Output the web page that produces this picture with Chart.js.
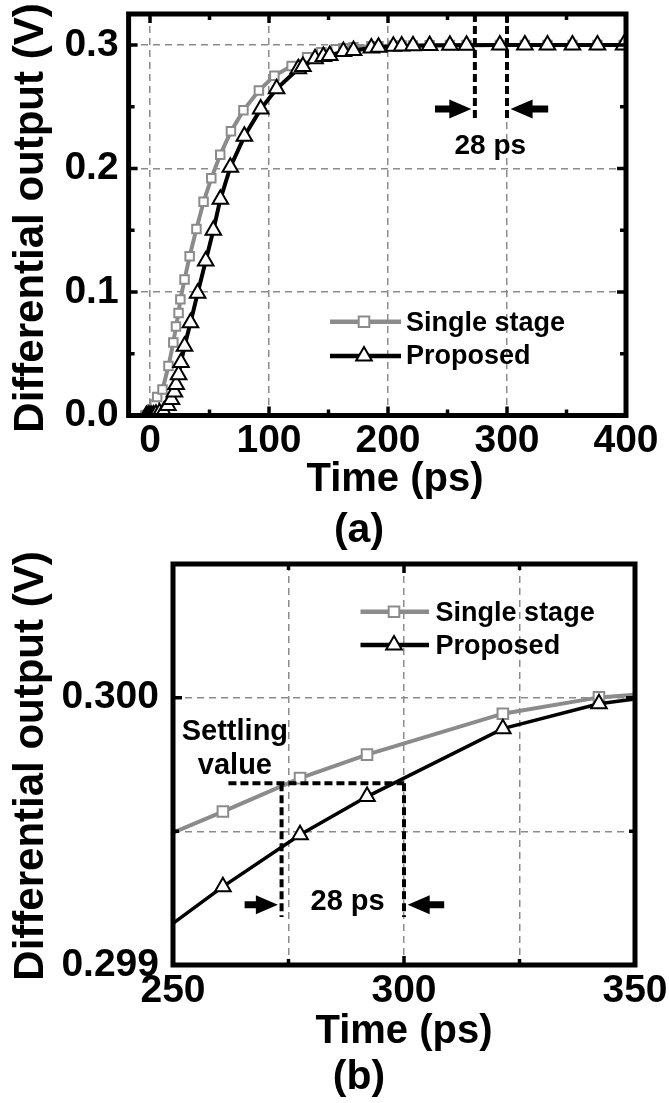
<!DOCTYPE html>
<html>
<head>
<meta charset="utf-8">
<script src="https://cdn.jsdelivr.net/npm/chart.js@4.4.1/dist/chart.umd.min.js"></script>
<style>
  html, body { margin: 0; padding: 0; background: #fff; }
  #wrap { position: relative; width: 669px; height: 1103px; overflow: hidden; }
  canvas { position: absolute; left: 0; }
</style>
</head>
<body>
<div id="wrap">
  <canvas id="chartA" width="669" height="551" style="top:0"></canvas>
  <canvas id="chartB" width="669" height="552" style="top:551px"></canvas>
</div>
<script>
const FONT = '"Liberation Sans", Arial, Helvetica, sans-serif';
const GRAY = '#8b8b8b';

// (a) full step response, ps / V
const timeSingleA = [-4, -3, -2, -1, 0, 1, 2, 4, 6, 10.5, 15.5, 19.6, 21.8, 24, 25.5, 29, 33.3, 39, 45, 51.5, 59, 68, 78.5, 91.5, 104.5, 119, 132, 144, 156, 162.5, 171, 186, 192, 204.5, 211.5, 221, 235, 252, 266, 294, 315, 334, 355, 376, 398];
const voutSingleA = [0, 0, 0.0005, 0.001, 0.002, 0.003, 0.005, 0.009, 0.015, 0.021, 0.040, 0.059, 0.072, 0.083, 0.094, 0.110, 0.129, 0.151, 0.173, 0.192, 0.211, 0.230, 0.247, 0.263, 0.275, 0.283, 0.290, 0.294, 0.2965, 0.2972, 0.298, 0.2988, 0.299, 0.2993, 0.2995, 0.2996, 0.2998, 0.2999, 0.3, 0.3, 0.3, 0.3, 0.3, 0.3, 0.3];
const timePropA = [-3, -1.5, 0, 1.5, 3, 5, 8, 11.5, 15, 18, 20.5, 22, 24, 26, 29, 34, 40, 46.8, 53.2, 59.1, 67.5, 79.3, 93, 106.4, 124.6, 128.5, 138.7, 145.7, 151, 162.5, 171, 186, 192, 204.5, 211.5, 221, 235, 252, 266, 294, 315, 334, 355, 376, 398];
const voutPropA = [0, 0, 0, 0, 0.0005, 0.001, 0.002, 0.003, 0.008, 0.013, 0.019, 0.025, 0.033, 0.043, 0.056, 0.075, 0.099, 0.125, 0.150, 0.175, 0.201, 0.226, 0.248, 0.2645, 0.2807, 0.2825, 0.2888, 0.2905, 0.2915, 0.2947, 0.2955, 0.2974, 0.298, 0.2988, 0.299, 0.2993, 0.2995, 0.2997, 0.2998, 0.3, 0.3, 0.3, 0.3, 0.3, 0.3];

// (b) zoom around the settling value (first and last points sit on the frame, no marker)
const timeB = [250, 260.8, 277.5, 292, 321.4, 342.2, 350];
const voutSingleB = [0.299495, 0.299574, 0.299699, 0.299787, 0.29994, 0.300001, 0.300011];
const voutPropB = [0.299156, 0.299293, 0.299487, 0.29963, 0.299884, 0.299977, 0.299995];

// axes
const xLabelsA = [0, 100, 200, 300, 400];
const xGridA = [0, 100, 200, 300];
const xMinorA = [50, 150, 250, 350];
const yLabelsA = [0, 0.1, 0.2, 0.3];
const yMinorA = [0.05, 0.15, 0.25];
const xLabelsB = [250, 300, 350];
const xGridB = [275, 300, 325];
const yLabelsB = [0.299, 0.3];
const yGridB = [0.2995, 0.3];

// annotation: settling instants (single stage, proposed)
const settleA = [273, 300];
const settleB = [273.5, 300];
const settleLevelB = 0.29968;

const seriesNames = ['Single stage', 'Proposed'];

const pts = (xs, ys) => xs.map((x, i) => ({ x, y: ys[i] }));
const fixedTicks = vals => s => { s.ticks = vals.map(v => ({ value: v })); };
const tickFont = { family: FONT, size: 39, weight: 'bold', lineHeight: 1 };

function drawMarker(ctx, style, x, y, r, color) {
  ctx.beginPath();
  if (style === 'rect') {
    const h = r * Math.SQRT1_2;
    ctx.rect(x - h, y - h, 2 * h, 2 * h);
  } else {
    ctx.moveTo(x, y - r);
    ctx.lineTo(x + 0.866 * r, y + 0.5 * r);
    ctx.lineTo(x - 0.866 * r, y + 0.5 * r);
    ctx.closePath();
  }
  ctx.fillStyle = '#fff';
  ctx.fill();
  ctx.lineWidth = 2;
  ctx.strokeStyle = color;
  ctx.stroke();
}

function arrow(ctx, x0, x1, y) {
  const dir = Math.sign(x1 - x0), hb = x1 - dir * 22, s = 3.5, h = 9.5;
  ctx.beginPath();
  ctx.moveTo(x0, y - s); ctx.lineTo(hb, y - s); ctx.lineTo(hb, y - h);
  ctx.lineTo(x1, y); ctx.lineTo(hb, y + h); ctx.lineTo(hb, y + s);
  ctx.lineTo(x0, y + s); ctx.closePath();
  ctx.fill();
}

function makeDecor(cfg) {
  return {
    id: 'decor',
    afterDatasetsDraw(chart) {
      const { ctx, chartArea: a, scales: { x, y } } = chart;
      ctx.save();
      // dashed settling marks
      ctx.strokeStyle = '#000';
      ctx.lineWidth = 4;
      ctx.setLineDash([8, 4]);
      cfg.dashes.forEach(d => {
        ctx.beginPath();
        ctx.moveTo(x.getPixelForValue(d.x[0]), y.getPixelForValue(d.y[0]));
        ctx.lineTo(x.getPixelForValue(d.x[1]), y.getPixelForValue(d.y[1]));
        ctx.stroke();
      });
      ctx.setLineDash([]);
      ctx.fillStyle = '#000';
      cfg.arrows.forEach(r => arrow(ctx, x.getPixelForValue(r.from), x.getPixelForValue(r.to), y.getPixelForValue(r.y)));
      ctx.textAlign = 'center';
      ctx.textBaseline = 'alphabetic';
      cfg.notes.forEach(n => {
        ctx.font = `bold ${n.size}px ${FONT}`;
        ctx.fillText(n.text, x.getPixelForValue(n.x), y.getPixelForValue(n.y));
      });

      // inward ticks on all four sides, then the frame
      ctx.lineWidth = 3.5;
      ctx.beginPath();
      const vTick = (v, len) => {
        const p = x.getPixelForValue(v);
        ctx.moveTo(p, a.bottom); ctx.lineTo(p, a.bottom - len);
        ctx.moveTo(p, a.top); ctx.lineTo(p, a.top + len);
      };
      const hTick = (v, len) => {
        const p = y.getPixelForValue(v);
        ctx.moveTo(a.left, p); ctx.lineTo(a.left + len, p);
        ctx.moveTo(a.right, p); ctx.lineTo(a.right - len, p);
      };
      cfg.xMajor.forEach(v => vTick(v, 9));
      cfg.xMinor.forEach(v => vTick(v, 6));
      cfg.yMajor.forEach(v => hTick(v, 9));
      cfg.yMinor.forEach(v => hTick(v, 6));
      ctx.stroke();
      ctx.lineWidth = 5;
      ctx.strokeRect(a.left, a.top, a.right - a.left, a.bottom - a.top);
      ctx.restore();
    },
    afterDraw(chart) {
      const ctx = chart.ctx, L = cfg.legend;
      ctx.save();
      // legend
      const styles = [{ c: GRAY, m: 'rect', r: 7.5 }, { c: '#000', m: 'triangle', r: 9 }];
      seriesNames.forEach((name, i) => {
        const st = styles[i];
        ctx.strokeStyle = st.c;
        ctx.lineWidth = 4.5;
        ctx.beginPath();
        ctx.moveTo(L.x0, L.lineY[i]);
        ctx.lineTo(L.x1, L.lineY[i]);
        ctx.stroke();
        drawMarker(ctx, st.m, L.mx, L.lineY[i], st.r, st.c);
        ctx.fillStyle = '#000';
        ctx.font = `bold 27px ${FONT}`;
        ctx.textAlign = 'left';
        ctx.textBaseline = 'alphabetic';
        ctx.fillText(name, L.tx, L.base[i]);
      });
      // axis titles and panel label
      ctx.fillStyle = '#000';
      ctx.textAlign = 'center';
      ctx.font = `bold 40px ${FONT}`;
      ctx.fillText('Time (ps)', cfg.xTitle[0], cfg.xTitle[1]);
      ctx.font = `bold 41px ${FONT}`;
      ctx.fillText(cfg.panel, 359, cfg.panelY);
      ctx.font = `bold 42px ${FONT}`;
      ctx.translate(43, cfg.yTitleY);
      ctx.rotate(-Math.PI / 2);
      ctx.fillText('Differential output (V)', 0, 0);
      ctx.restore();
    }
  };
}

function buildChart(id, o) {
  return new Chart(document.getElementById(id), {
    type: 'line',
    data: {
      datasets: [
        {
          label: seriesNames[0], data: o.single, order: 2,
          borderColor: GRAY, borderWidth: 4, tension: 0,
          pointStyle: 'rect', pointRadius: o.rectR, pointBackgroundColor: '#fff',
          pointBorderColor: GRAY, pointBorderWidth: 2
        },
        {
          label: seriesNames[1], data: o.prop, order: 1,
          borderColor: '#000', borderWidth: o.propWidth, tension: 0,
          pointStyle: 'triangle', pointRadius: o.triR, pointBackgroundColor: '#fff',
          pointBorderColor: '#000', pointBorderWidth: 2
        }
      ]
    },
    options: {
      responsive: false,
      animation: false,
      events: [],
      layout: { padding: o.pad },
      plugins: { legend: { display: false }, tooltip: { enabled: false } },
      scales: {
        x: {
          type: 'linear', min: o.xMin, max: o.xMax,
          afterBuildTicks: fixedTicks(o.xTicks),
          afterFit: s => { s.height = o.xHeight; s.paddingLeft = 0; s.paddingRight = 0; },
          grid: { color: c => o.xGrid.includes(c.tick.value) ? GRAY : 'transparent', lineWidth: 1.5, drawTicks: false, borderDash: [7, 5] },
          border: { display: false, dash: [7, 5] },
          ticks: { font: tickFont, color: '#000', padding: 6.5, maxRotation: 0, autoSkip: false,
                   callback: v => o.xLabels.includes(v) ? String(v) : '' }
        },
        y: {
          type: 'linear', min: o.yMin, max: o.yMax,
          afterBuildTicks: fixedTicks(o.yTicks),
          afterFit: s => { s.width = o.yWidth; s.paddingTop = 0; s.paddingBottom = 0; },
          grid: { color: c => o.yGrid.includes(c.tick.value) ? GRAY : 'transparent', lineWidth: 1.5, drawTicks: false, borderDash: [7, 5] },
          border: { display: false, dash: [7, 5] },
          ticks: { font: tickFont, color: '#000', padding: o.yPad, autoSkip: false,
                   callback: v => o.yLabels.includes(v) ? v.toFixed(o.yDigits) : '' }
        }
      }
    },
    plugins: [makeDecor(o.decor)]
  });
}

buildChart('chartA', {
  single: pts(timeSingleA, voutSingleA), prop: pts(timePropA, voutPropA),
  rectR: 6, triR: 9, propWidth: 4,
  pad: { top: 14, right: 43, bottom: 0, left: 0 },
  xMin: -18, xMax: 400, xHeight: 135.5, xTicks: xLabelsA, xGrid: xGridA, xLabels: xLabelsA,
  yMin: 0, yMax: 0.325, yWidth: 128.6, yPad: 10, yTicks: yLabelsA, yGrid: [0.1, 0.2, 0.3], yLabels: yLabelsA, yDigits: 1,
  decor: {
    xMajor: xLabelsA, xMinor: xMinorA, yMajor: yLabelsA, yMinor: yMinorA,
    dashes: settleA.map(t => ({ x: [t, t], y: [0.325, 0.238] })),
    arrows: [{ from: 239.5, to: settleA[0] - 3, y: 0.248 }, { from: 334.6, to: settleA[1] + 3, y: 0.248 }],
    notes: [{ text: '28 ps', x: 286, y: 0.2119, size: 28 }],
    legend: { x0: 330, x1: 401, mx: 364, tx: 406, lineY: [321.7, 356], base: [330.5, 364] },
    xTitle: [395, 490.5], yTitleY: 218, panel: '(a)', panelY: 542
  }
});

buildChart('chartB', {
  single: pts(timeB, voutSingleB), prop: pts(timeB, voutPropB),
  rectR: c => (c.dataIndex === 0 || c.dataIndex === timeB.length - 1) ? 0 : 7.5,
  triR: c => (c.dataIndex === 0 || c.dataIndex === timeB.length - 1) ? 0 : 9,
  propWidth: 3.5,
  pad: { top: 13, right: 34, bottom: 0, left: 0 },
  xMin: 250, xMax: 350, xHeight: 138, xTicks: [250, 275, 300, 325, 350], xGrid: xGridB, xLabels: xLabelsB,
  yMin: 0.299, yMax: 0.3005, yWidth: 173, yPad: 14, yTicks: [0.299, 0.2995, 0.3], yGrid: yGridB, yLabels: yLabelsB, yDigits: 3,
  decor: {
    xMajor: xLabelsB, xMinor: [275, 325], yMajor: yLabelsB, yMinor: [0.2995],
    dashes: [
      { x: [262, settleB[1]], y: [settleLevelB, settleLevelB] },
      { x: [settleB[0], settleB[0]], y: [settleLevelB, 0.29918] },
      { x: [settleB[1], settleB[1]], y: [settleLevelB, 0.29918] }
    ],
    arrows: [{ from: 265.5, to: settleB[0] - 0.8, y: 0.299225 }, { from: 308.7, to: settleB[1] + 0.8, y: 0.299225 }],
    notes: [
      { text: '28 ps', x: 287.8, y: 0.299206, size: 29 },
      { text: 'Settling', x: 263.4, y: 0.299843, size: 29 },
      { text: 'value', x: 263.4, y: 0.299715, size: 29 }
    ],
    legend: { x0: 360.5, x1: 429, mx: 394, tx: 435.6, lineY: [60.7, 94], base: [69.5, 102.8] },
    xTitle: [404, 491.6], yTitleY: 215, panel: '(b)', panelY: 538
  }
});
</script>
</body>
</html>
